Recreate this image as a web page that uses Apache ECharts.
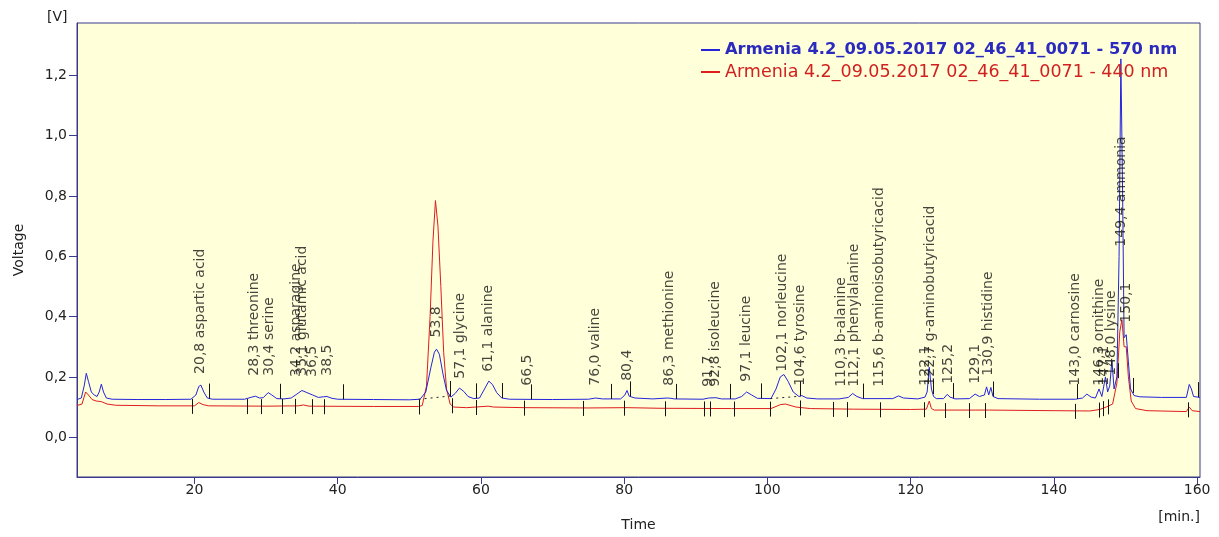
<!DOCTYPE html>
<html>
<head>
<meta charset="utf-8">
<script src="https://cdn.jsdelivr.net/npm/echarts@6/dist/echarts.min.js"></script>
<style>
  html, body { margin: 0; padding: 0; background: #ffffff; }
  #chart { width: 1219px; height: 537px; }
</style>
</head>
<body>
<div id="chart"></div>
<script>
// Detector channels
const seriesNames = [
  'Armenia 4.2_09.05.2017 02_46_41_0071 - 570 nm',
  'Armenia 4.2_09.05.2017 02_46_41_0071 - 440 nm'
];

// Chromatogram at 570 nm: [time (min), voltage (V)]
const trace570 = [
  [3.6, 0.125], [4.2, 0.13], [4.6, 0.17], [4.9, 0.212], [5.2, 0.185], [5.6, 0.15], [6.0, 0.14],
  [6.4, 0.135], [6.7, 0.15], [7.0, 0.176], [7.3, 0.15], [7.7, 0.13], [8.5, 0.126], [12, 0.125],
  [16, 0.125], [19.5, 0.126], [20.2, 0.14], [20.6, 0.168], [20.9, 0.173], [21.3, 0.15], [21.8, 0.13],
  [22.5, 0.126], [27, 0.126], [28.0, 0.133], [28.5, 0.136], [29.1, 0.13], [29.6, 0.131], [30.3, 0.148],
  [30.8, 0.14], [31.5, 0.128], [32.5, 0.127], [33.5, 0.13], [34.3, 0.143], [35.0, 0.155], [35.7, 0.148],
  [36.5, 0.14], [37.3, 0.132], [38.0, 0.134], [38.5, 0.135], [39.2, 0.129], [40, 0.126], [45, 0.125],
  [50, 0.124], [51.5, 0.126], [52.3, 0.15], [53.0, 0.23], [53.5, 0.282], [53.8, 0.292], [54.2, 0.275],
  [54.7, 0.21], [55.2, 0.155], [55.8, 0.133], [56.4, 0.145], [57.0, 0.163], [57.6, 0.152], [58.2, 0.135],
  [59.0, 0.128], [59.8, 0.13], [60.5, 0.16], [61.1, 0.186], [61.6, 0.175], [62.2, 0.148], [62.9, 0.13],
  [64, 0.126], [70, 0.125], [75, 0.126], [76.0, 0.13], [77, 0.127], [79.5, 0.127], [80.1, 0.14],
  [80.4, 0.155], [80.7, 0.136], [81.5, 0.13], [84, 0.127], [86.0, 0.13], [86.5, 0.129], [87, 0.127],
  [91, 0.126], [91.8, 0.13], [92.8, 0.131], [93.6, 0.127], [95.5, 0.127], [96.4, 0.135], [97.1, 0.15],
  [97.8, 0.14], [98.6, 0.129], [100.5, 0.128], [101.2, 0.16], [101.8, 0.2], [102.3, 0.208], [102.9, 0.185],
  [103.6, 0.15], [104.4, 0.135], [104.8, 0.138], [105.5, 0.13], [107, 0.127], [110, 0.127], [111.3, 0.132],
  [111.9, 0.145], [112.5, 0.135], [113.3, 0.128], [117.5, 0.128], [118.3, 0.137], [119.0, 0.13], [121, 0.127],
  [122.0, 0.133], [122.3, 0.15], [122.6, 0.232], [122.9, 0.16], [123.2, 0.135], [123.6, 0.128], [124.6, 0.128],
  [125.1, 0.142], [125.5, 0.133], [126.2, 0.127], [128.2, 0.128], [129.0, 0.143], [129.6, 0.135], [130.3, 0.14],
  [130.6, 0.167], [130.9, 0.14], [131.2, 0.165], [131.5, 0.135], [132.2, 0.128], [138, 0.126], [143, 0.126],
  [144.0, 0.13], [144.6, 0.143], [145.2, 0.133], [145.8, 0.13], [146.3, 0.16], [146.7, 0.135], [147.2, 0.2],
  [147.5, 0.15], [147.8, 0.17], [148.1, 0.255], [148.4, 0.16], [148.8, 0.2], [149.1, 0.6], [149.35, 1.255],
  [149.6, 0.8], [149.8, 0.33], [150.1, 0.34], [150.4, 0.25], [150.7, 0.16], [151.2, 0.138], [152, 0.134],
  [155, 0.132], [158.5, 0.132], [158.9, 0.175], [159.2, 0.16], [159.5, 0.135], [160.4, 0.132]
];

// Chromatogram at 440 nm: [time (min), voltage (V)]
const trace440 = [
  [3.6, 0.105], [4.3, 0.11], [4.8, 0.15], [5.2, 0.14], [5.7, 0.125], [6.3, 0.12], [7.0, 0.118],
  [7.8, 0.11], [9, 0.106], [15, 0.104], [20, 0.104], [20.6, 0.115], [21.2, 0.108], [22, 0.104],
  [30, 0.103], [34.5, 0.104], [35.2, 0.107], [36, 0.103], [45, 0.102], [51.3, 0.102], [51.8, 0.105],
  [52.4, 0.17], [52.9, 0.4], [53.3, 0.65], [53.65, 0.785], [54.0, 0.7], [54.4, 0.5], [54.8, 0.28],
  [55.2, 0.16], [55.7, 0.11], [56.2, 0.1], [58, 0.098], [61, 0.103], [61.8, 0.1], [66, 0.098],
  [75, 0.097], [80.4, 0.098], [85, 0.096], [95, 0.095], [100.5, 0.095], [101.8, 0.108], [102.5, 0.11],
  [104, 0.1], [106, 0.095], [112, 0.093], [120, 0.092], [122.2, 0.093], [122.6, 0.12], [122.9, 0.095],
  [123.3, 0.09], [129, 0.09], [131, 0.09], [140, 0.088], [145, 0.087], [146.4, 0.092], [147.3, 0.1],
  [148.2, 0.11], [148.8, 0.18], [149.2, 0.35], [149.5, 0.39], [149.8, 0.3], [150.1, 0.3], [150.4, 0.2],
  [150.8, 0.12], [151.4, 0.095], [153, 0.088], [158.5, 0.085], [158.9, 0.1], [159.3, 0.088], [160.4, 0.085]
];

// Identified peaks: retention time, name, annotation height (V)
const peakTimes = [20.8, 28.3, 30.4, 34.2, 35.1, 36.5, 38.5, 53.8, 57.1, 61.1, 66.5, 76.0, 80.4, 86.3,
  91.7, 92.8, 97.1, 102.1, 104.6, 110.3, 112.1, 115.6, 122.1, 122.7, 125.2, 129.1, 130.9, 143.0, 146.3,
  147.1, 148.0, 149.4, 150.1];
const peakNames = ['20,8 aspartic acid', '28,3 threonine', '30,4 serine', '34,2 asparagine',
  '35,1 glutamic acid', '36,5', '38,5', '53,8', '57,1 glycine', '61,1 alanine', '66,5', '76,0 valine',
  '80,4', '86,3 methionine', '91,7', '92,8 isoleucine', '97,1 leucine', '102,1 norleucine',
  '104,6 tyrosine', '110,3 b-alanine', '112,1 phenylalanine', '115,6 b-aminoisobutyricacid', '122,1',
  '122,7 g-aminobutyricacid', '125,2', '129,1', '130,9 histidine', '143,0 carnosine', '146,3 ornithine',
  '147,1', '148,0 lysine', '149,4 ammonia', '150,1'];
const peakLabelLevels = [0.21, 0.204, 0.204, 0.2, 0.204, 0.2, 0.204, 0.331, 0.194, 0.217, 0.171, 0.171,
  0.187, 0.171, 0.167, 0.167, 0.184, 0.217, 0.171, 0.167, 0.167, 0.167, 0.171, 0.171, 0.177, 0.177, 0.204,
  0.171, 0.171, 0.171, 0.204, 0.632, 0.38];

// Peak integration boundaries (min)
const marks570 = [22.1, 32.0, 40.8, 55.7, 59.3, 62.9, 67.0, 78.1, 80.8, 87.2, 94.8, 99.1, 104.5, 113.3,
  123.1, 125.9, 131.5, 143.2, 151.0, 160.1];
const marks440 = [19.7, 27.3, 29.3, 32.2, 34.1, 36.4, 38.1, 51.3, 55.9, 59.3, 66.0, 74.3, 80.0, 85.7,
  91.1, 92.0, 95.4, 100.4, 104.5, 109.2, 111.1, 115.7, 121.8, 124.8, 128.2, 130.4, 142.9, 146.3, 146.9,
  147.5, 148.9, 158.7];

// Dotted integration baselines under the larger 570 nm peaks: [start, end] (min)
const baselines570 = [[51.3, 55.7], [100.4, 104.5]];

const xTicks = [20, 40, 60, 80, 100, 120, 140, 160];
const yTicks = [0, 0.2, 0.4, 0.6, 0.8, 1.0, 1.2];

const FONT = 'DejaVu Sans';
const FRAME = '#3a3a8a';
const BLUE = '#2424dc';
const RED = '#e01c1c';

// value of a trace at time t, used to seat the boundary ticks on the curve
function traceAt(trace, t) {
  for (let i = 1; i < trace.length; i++) {
    if (trace[i][0] >= t) {
      const a = trace[i - 1], b = trace[i];
      return a[1] + (b[1] - a[1]) * (t - a[0]) / (b[0] - a[0]);
    }
  }
  return trace[trace.length - 1][1];
}

function boundarySeries(trace, marks, up, down) {
  return {
    type: 'custom',
    silent: true,
    z: 4,
    data: marks.map(t => [t, traceAt(trace, t)]),
    renderItem(params, api) {
      const p = api.coord([api.value(0), api.value(1)]);
      const x = Math.round(p[0]) + 0.5;
      return {
        type: 'line',
        shape: { x1: x, y1: p[1] + down, x2: x, y2: p[1] - up },
        style: { stroke: '#141414', lineWidth: 1 }
      };
    }
  };
}

const chart = echarts.init(document.getElementById('chart'), null, { renderer: 'canvas' });

chart.setOption({
  animation: false,
  backgroundColor: '#ffffff',
  grid: {
    left: 77, right: 19, top: 23, bottom: 59,
    show: true, backgroundColor: '#ffffda', borderColor: FRAME, borderWidth: 1
  },
  legend: [
    {
      left: 696, top: 37, orient: 'vertical', selectedMode: false,
      icon: 'rect', itemWidth: 19, itemHeight: 2,
      data: [{ name: seriesNames[0], textStyle: { color: '#2a2abf', fontWeight: 'bold', fontSize: 16.3 } }],
      textStyle: { fontFamily: FONT }
    },
    {
      left: 696, top: 58, orient: 'vertical', selectedMode: false,
      icon: 'rect', itemWidth: 19, itemHeight: 2,
      data: [{ name: seriesNames[1], textStyle: { color: '#d02020', fontSize: 17.5 } }],
      textStyle: { fontFamily: FONT }
    }
  ],
  xAxis: {
    type: 'value', min: 3.6, max: 160.4,
    name: 'Time', nameLocation: 'middle', nameGap: 41,
    nameTextStyle: { fontFamily: FONT, fontSize: 14, color: '#222' },
    axisLine: { show: true, onZero: false, lineStyle: { color: FRAME, width: 1 } },
    axisTick: { show: true, length: 7, customValues: xTicks, lineStyle: { color: FRAME } },
    axisLabel: { customValues: xTicks, fontFamily: FONT, fontSize: 14, color: '#222', margin: 6 },
    splitLine: { show: false }
  },
  yAxis: {
    type: 'value', min: -0.132, max: 1.374,
    name: 'Voltage', nameLocation: 'middle', nameGap: 51, nameRotate: 90,
    nameTextStyle: { fontFamily: FONT, fontSize: 14, color: '#222' },
    axisLine: { show: true, onZero: false, lineStyle: { color: FRAME, width: 1 } },
    axisTick: { show: true, length: 8, customValues: yTicks, lineStyle: { color: FRAME } },
    axisLabel: {
      customValues: yTicks, fontFamily: FONT, fontSize: 14, color: '#222', margin: 10,
      formatter: v => v.toFixed(1).replace('.', ',')
    },
    splitLine: { show: false }
  },
  graphic: [
    { type: 'text', left: 47, top: 10, style: { text: '[V]', font: '14px "DejaVu Sans"', fill: '#222' } },
    { type: 'text', right: 19, top: 510, style: { text: '[min.]', font: '14px "DejaVu Sans"', fill: '#222' } }
  ],
  series: [
    {
      name: seriesNames[1], type: 'line', data: trace440, showSymbol: false, symbol: 'none',
      lineStyle: { color: RED, width: 1 }, itemStyle: { color: RED }, z: 2, silent: true
    },
    {
      name: seriesNames[0], type: 'line', data: trace570, showSymbol: false, symbol: 'none',
      lineStyle: { color: BLUE, width: 1 }, itemStyle: { color: BLUE }, z: 3, silent: true
    },
    boundarySeries(trace570, marks570, 15, 0),
    boundarySeries(trace440, marks440, 7, 8),
    {
      type: 'custom', silent: true, z: 4,
      data: baselines570.map(b => [b[0], traceAt(trace570, b[0]), b[1], traceAt(trace570, b[1])]),
      renderItem(params, api) {
        const a = api.coord([api.value(0), api.value(1)]);
        const b = api.coord([api.value(2), api.value(3)]);
        return {
          type: 'line',
          shape: { x1: a[0], y1: a[1], x2: b[0], y2: b[1] },
          style: { stroke: '#222', lineWidth: 1, lineDash: [2, 4] }
        };
      }
    },
    {
      type: 'scatter', silent: true, z: 5, symbolSize: 1, itemStyle: { color: 'rgba(0,0,0,0)' },
      data: peakTimes.map((t, i) => ({ value: [t, peakLabelLevels[i]], name: peakNames[i] })),
      label: {
        show: true, position: 'inside', rotate: 90, align: 'left', verticalAlign: 'middle',
        formatter: p => p.name, fontFamily: FONT, fontSize: 14, color: '#151515'
      },
      labelLayout: { hideOverlap: false }
    }
  ]
});
</script>
</body>
</html>
